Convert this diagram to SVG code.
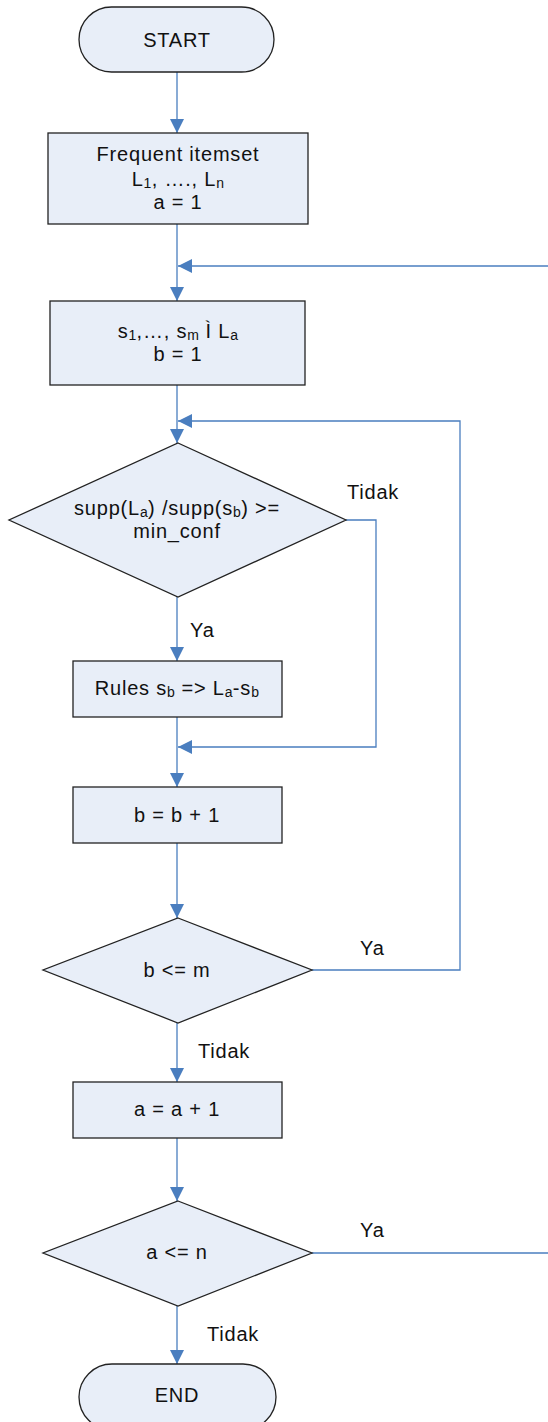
<svg xmlns="http://www.w3.org/2000/svg" width="548" height="1422" viewBox="0 0 548 1422">
<style>
.shape{fill:#e8eef8;stroke:#222;stroke-width:1.3}
.conn{fill:none;stroke:#4a7ebf;stroke-width:1.3}
text{font-family:"Liberation Sans",Arial,sans-serif;font-size:20px;fill:#111;letter-spacing:0.8px}
.c{text-anchor:middle}
.sub{font-size:14px;letter-spacing:0.3px}
</style>
<defs>
<marker id="arr" markerUnits="userSpaceOnUse" markerWidth="15" markerHeight="15" refX="14" refY="7" orient="auto">
<path d="M0,0 L14,7 L0,14 z" fill="#4a7ebf"/>
</marker>
</defs>
<rect width="548" height="1422" fill="#fff"/>
<g id="connectors">
<path class="conn" d="M177,72 V133" marker-end="url(#arr)"/>
<path class="conn" d="M177,224 V301" marker-end="url(#arr)"/>
<path class="conn" d="M548,266 H178" marker-end="url(#arr)"/>
<path class="conn" d="M177,385 V443" marker-end="url(#arr)"/>
<path class="conn" d="M312,970 H460 V421 H178" marker-end="url(#arr)"/>
<path class="conn" d="M177,597 V661" marker-end="url(#arr)"/>
<path class="conn" d="M346,520 H376 V747 H178" marker-end="url(#arr)"/>
<path class="conn" d="M177,717 V787" marker-end="url(#arr)"/>
<path class="conn" d="M177,843 V918" marker-end="url(#arr)"/>
<path class="conn" d="M177,1023 V1082" marker-end="url(#arr)"/>
<path class="conn" d="M177,1138 V1201" marker-end="url(#arr)"/>
<path class="conn" d="M312,1253 H548"/>
<path class="conn" d="M177,1306 V1364" marker-end="url(#arr)"/>
</g>
<g id="labels">
<text x="347" y="499">Tidak</text>
<text x="190" y="637">Ya</text>
<text x="360" y="955">Ya</text>
<text x="198" y="1058">Tidak</text>
<text x="360" y="1237">Ya</text>
<text x="207" y="1341">Tidak</text>
</g>
<g id="start">
<rect class="shape" x="79" y="7" width="195" height="65" rx="32.5"/>
<text class="c" x="177" y="47">START</text>
</g>
<g id="frequent">
<rect class="shape" x="48" y="133" width="260" height="91"/>
<text class="c" x="178" y="161">Frequent itemset</text>
<text class="c" x="178" y="186">L<tspan class="sub" dy="2">1</tspan><tspan dy="-2">, …., L</tspan><tspan class="sub" dy="2">n</tspan></text>
<text class="c" x="178" y="209">a = 1</text>
</g>
<g id="subsets">
<rect class="shape" x="50" y="301" width="255" height="84"/>
<text class="c" x="178" y="338">s<tspan class="sub" dy="2">1</tspan><tspan dy="-2">,…, s</tspan><tspan class="sub" dy="2">m</tspan><tspan dy="-2"> Ì L</tspan><tspan class="sub" dy="2">a</tspan></text>
<text class="c" x="178" y="361">b = 1</text>
</g>
<g id="cond-conf">
<polygon class="shape" points="178,443 346,520 178,597 9,520"/>
<text class="c" x="177" y="515">supp(L<tspan class="sub" dy="2">a</tspan><tspan dy="-2">) /supp(s</tspan><tspan class="sub" dy="2">b</tspan><tspan dy="-2">) &gt;=</tspan></text>
<text class="c" x="177" y="538">min_conf</text>
</g>
<g id="rules">
<rect class="shape" x="73" y="661" width="209" height="56"/>
<text class="c" x="177" y="695">Rules s<tspan class="sub" dy="2">b</tspan><tspan dy="-2"> =&gt; L</tspan><tspan class="sub" dy="2">a</tspan><tspan dy="-2">-s</tspan><tspan class="sub" dy="2">b</tspan></text>
</g>
<g id="inc-b">
<rect class="shape" x="73" y="787" width="209" height="56"/>
<text class="c" x="177" y="822">b = b + 1</text>
</g>
<g id="cond-b">
<polygon class="shape" points="178,918 312,970 178,1023 43,970"/>
<text class="c" x="177" y="977">b &lt;= m</text>
</g>
<g id="inc-a">
<rect class="shape" x="73" y="1082" width="209" height="56"/>
<text class="c" x="177" y="1116">a = a + 1</text>
</g>
<g id="cond-a">
<polygon class="shape" points="178,1201 312,1253 178,1306 43,1253"/>
<text class="c" x="177" y="1259">a &lt;= n</text>
</g>
<g id="end">
<rect class="shape" x="79" y="1364" width="197" height="66" rx="33"/>
<text class="c" x="177" y="1402">END</text>
</g>
</svg>
